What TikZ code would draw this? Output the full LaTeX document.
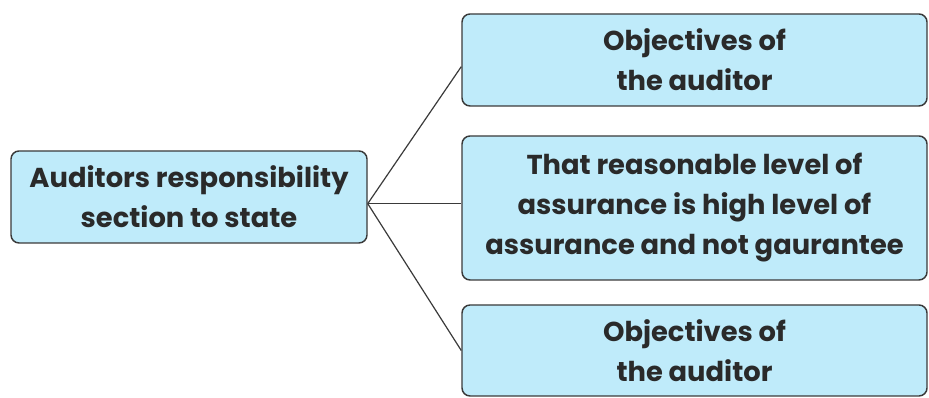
\documentclass[tikz,border=0pt]{standalone}
\usepackage{fontspec}
\setmainfont{Poppins}
\usepackage{tikz}
\definecolor{boxfill}{HTML}{BFEBFA}
\definecolor{boxline}{HTML}{3A3A3A}
\definecolor{boxtext}{HTML}{2A2A2A}
\tikzset{
  topic/.style={draw=boxline, fill=boxfill, line width=1.1pt, rounded corners=6pt,
    inner sep=0pt, align=center, text=boxtext,
    font=\fontsize{20.5}{30}\selectfont\bfseries},
  link/.style={draw=boxline, line width=0.9pt}
}

\begin{document}
\begin{tikzpicture}[x=0.75pt,y=-0.75pt]
  \useasboundingbox (0,0) rectangle (929,398);

  \node[topic, minimum width=267pt, minimum height=69pt] (resp) at (189,197)
    {Auditors responsibility\\section to state};

  \node[topic, minimum width=348.75pt, minimum height=69pt] (obj1) at (694.5,60)
    {Objectives of\\the auditor};
  \node[topic, minimum width=348.75pt, minimum height=108pt] (assur) at (694.5,208)
    {That reasonable level of\\assurance is high level of\\assurance and not gaurantee};
  \node[topic, minimum width=348.75pt, minimum height=68.25pt] (obj2) at (694.5,350.5)
    {Objectives of\\the auditor};

  % branches leave the box a little below its middle
  \coordinate (hub) at ([yshift=-5pt]resp.east);
  \draw[link] (hub) -- ([yshift=-5pt]obj1.west);
  \draw[link] (hub) -- (assur.west |- hub);
  \draw[link] (hub) -- (obj2.west);
\end{tikzpicture}
\end{document}
